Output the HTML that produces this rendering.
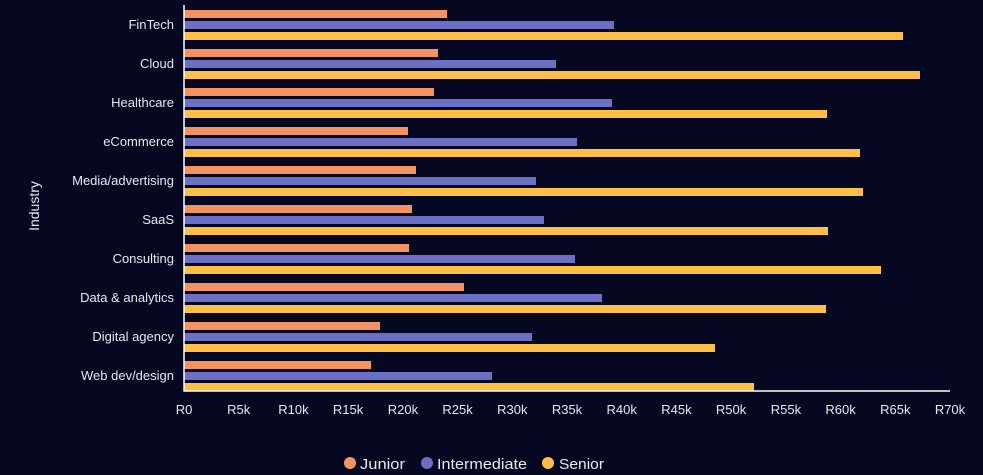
<!DOCTYPE html>
<html><head><meta charset="utf-8"><style>
html,body{margin:0;padding:0;background:#060821;}
svg{display:block;font-family:"Liberation Sans",sans-serif;}
</style></head><body>
<svg width="983" height="475" xmlns="http://www.w3.org/2000/svg">
<rect width="983" height="475" fill="#060821"/>
<g fill="#f4935f">
<rect x="184" y="10" width="263" height="8"/>
<rect x="184" y="49" width="254" height="8"/>
<rect x="184" y="88" width="250" height="8"/>
<rect x="184" y="127" width="224" height="8"/>
<rect x="184" y="166" width="232" height="8"/>
<rect x="184" y="205" width="228" height="8"/>
<rect x="184" y="244" width="225" height="8"/>
<rect x="184" y="283" width="280" height="8"/>
<rect x="184" y="322" width="196" height="8"/>
<rect x="184" y="361" width="187" height="8"/>
</g>
<g fill="#6b70c4">
<rect x="184" y="21" width="430" height="8"/>
<rect x="184" y="60" width="372" height="8"/>
<rect x="184" y="99" width="428" height="8"/>
<rect x="184" y="138" width="393" height="8"/>
<rect x="184" y="177" width="352" height="8"/>
<rect x="184" y="216" width="360" height="8"/>
<rect x="184" y="255" width="391" height="8"/>
<rect x="184" y="294" width="418" height="8"/>
<rect x="184" y="333" width="348" height="8"/>
<rect x="184" y="372" width="308" height="8"/>
</g>
<g fill="#ffbe45">
<rect x="184" y="32" width="719" height="8"/>
<rect x="184" y="71" width="736" height="8"/>
<rect x="184" y="110" width="643" height="8"/>
<rect x="184" y="149" width="676" height="8"/>
<rect x="184" y="188" width="679" height="8"/>
<rect x="184" y="227" width="644" height="8"/>
<rect x="184" y="266" width="697" height="8"/>
<rect x="184" y="305" width="642" height="8"/>
<rect x="184" y="344" width="531" height="8"/>
<rect x="184" y="383" width="570" height="8"/>
</g>
<g fill="#e6e8f2" font-size="13" text-anchor="end">
<text x="174" y="29">FinTech</text>
<text x="174" y="68">Cloud</text>
<text x="174" y="107">Healthcare</text>
<text x="174" y="146">eCommerce</text>
<text x="174" y="185">Media/advertising</text>
<text x="174" y="224">SaaS</text>
<text x="174" y="263">Consulting</text>
<text x="174" y="302">Data &amp; analytics</text>
<text x="174" y="341">Digital agency</text>
<text x="174" y="380">Web dev/design</text>
</g>
<text transform="translate(39,206) rotate(-90)" fill="#e6e8f2" font-size="14" text-anchor="middle">Industry</text>
<g fill="#e6e8f2" font-size="13" text-anchor="middle">
<text x="184" y="414">R0</text><text x="238.7" y="414">R5k</text><text x="293.4" y="414">R10k</text>
<text x="348.1" y="414">R15k</text><text x="402.9" y="414">R20k</text><text x="457.6" y="414">R25k</text>
<text x="512.3" y="414">R30k</text><text x="567" y="414">R35k</text><text x="621.7" y="414">R40k</text>
<text x="676.4" y="414">R45k</text><text x="731.1" y="414">R50k</text><text x="785.9" y="414">R55k</text>
<text x="840.6" y="414">R60k</text><text x="895.3" y="414">R65k</text><text x="950" y="414">R70k</text>
</g>
<g font-size="15" fill="#e6e8f2">
<circle cx="350" cy="463" r="6" fill="#f4935f"/><text x="360" y="469" textLength="45" lengthAdjust="spacingAndGlyphs">Junior</text>
<circle cx="427" cy="463" r="6" fill="#6b70c4"/><text x="437" y="469" textLength="90" lengthAdjust="spacingAndGlyphs">Intermediate</text>
<circle cx="548" cy="463" r="6" fill="#ffbe45"/><text x="559" y="469" textLength="45" lengthAdjust="spacingAndGlyphs">Senior</text>
</g>
<line x1="184" y1="5" x2="184" y2="391.5" stroke="#ffffff" stroke-width="1.5"/>
<line x1="183.5" y1="391" x2="950" y2="391" stroke="#ffffff" stroke-width="1.5"/>
</svg>
</body></html>
